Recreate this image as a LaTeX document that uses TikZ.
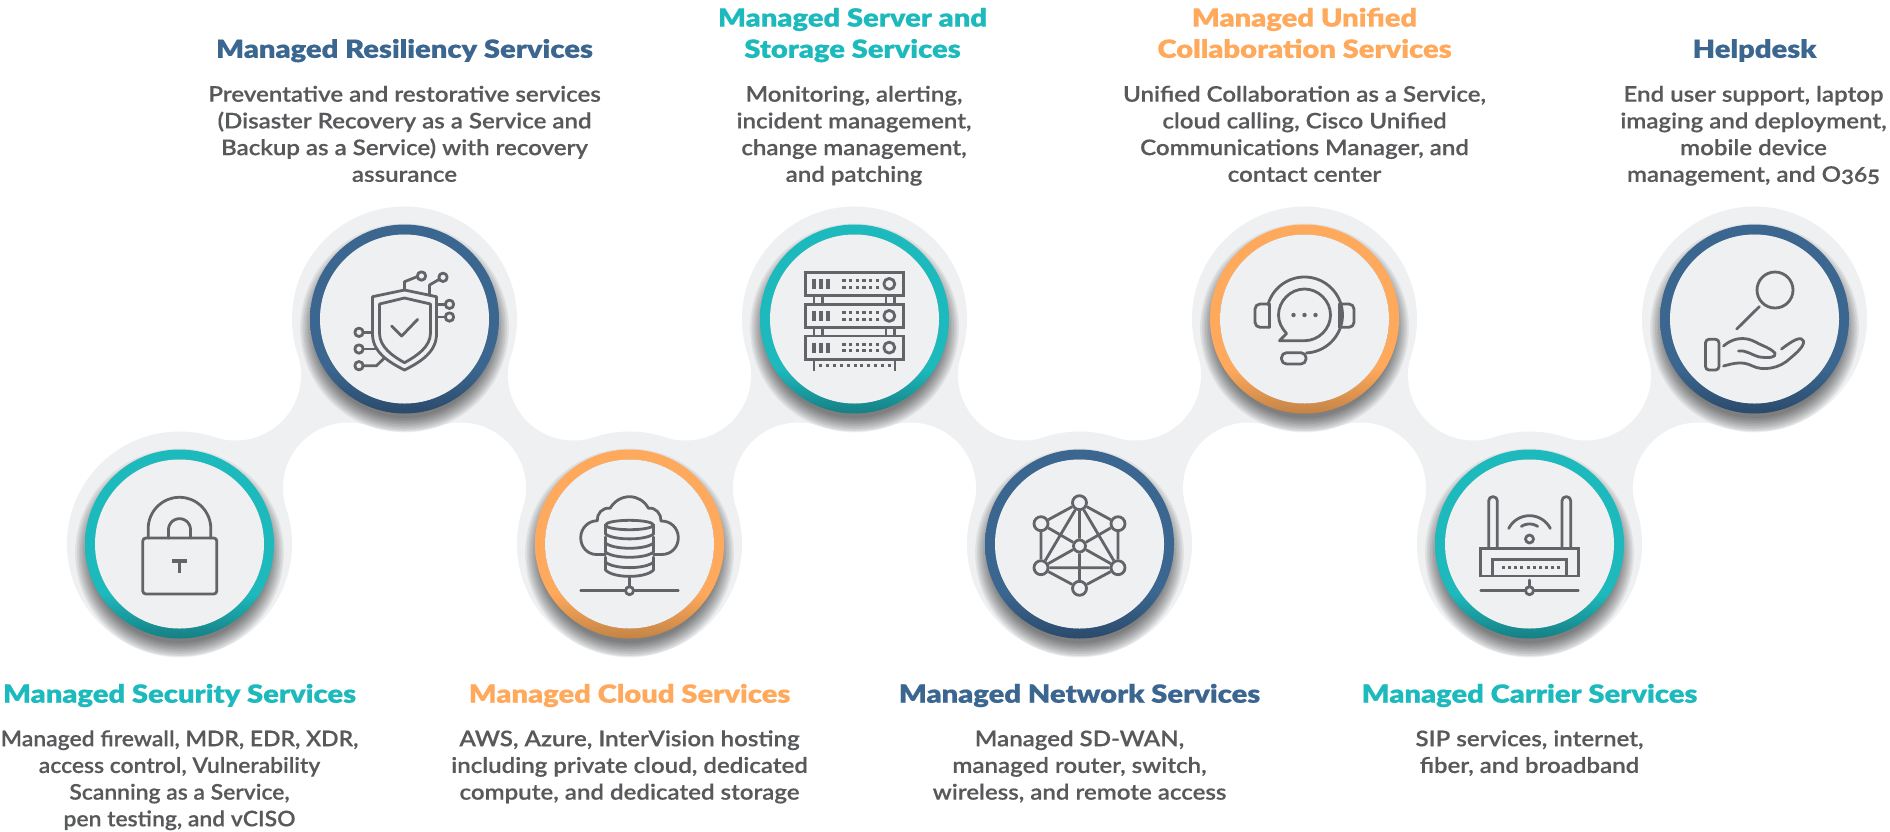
\documentclass[tikz,border=0pt]{standalone}
\usepackage{fontspec}
\setmainfont{Lato}
\newfontfamily\ttlfont[FakeStretch=1.165,FakeBold=0.5]{Lato Black}
\newfontfamily\bodyfont[FakeStretch=1.12,FakeBold=0.35,Numbers=OldStyle]{Lato Semibold}
\newfontfamily\bodyfontN[FakeStretch=1.065,FakeBold=0.35,Numbers=OldStyle]{Lato Semibold}
\definecolor{halo}{HTML}{EEF0F2}
\definecolor{icon}{HTML}{636467}
\definecolor{bodytxt}{HTML}{58595B}
\definecolor{teal}{HTML}{1DBABD}
\definecolor{tealD}{HTML}{167F84}
\definecolor{orng}{HTML}{FFA95C}
\definecolor{orngD}{HTML}{C48445}
\definecolor{blu}{HTML}{3B668F}
\definecolor{bluD}{HTML}{2B4A6B}
\pgfdeclareverticalshading{ringteal}{100bp}{color(0bp)=(tealD); color(25bp)=(tealD); color(37bp)=(teal); color(100bp)=(teal)}
\pgfdeclareverticalshading{ringorng}{100bp}{color(0bp)=(orngD); color(25bp)=(orngD); color(37bp)=(orng); color(100bp)=(orng)}
\pgfdeclareverticalshading{ringblu}{100bp}{color(0bp)=(bluD); color(25bp)=(bluD); color(37bp)=(blu); color(100bp)=(blu)}
\tikzset{
  ico/.style={draw=icon,line width=2.8pt,line join=round,line cap=round},
  icf/.style={fill=icon},
  hub/.style={circle,draw=icon,line width=2.8pt,inner sep=0pt,minimum size=14pt},
  ttl/.style={font=\ttlfont\fontsize{25}{31.2}\selectfont,align=center,inner sep=0pt,anchor=north},
  bdy/.style={font=\bodyfont\fontsize{21.5}{26.7}\selectfont,text=bodytxt,align=center,inner sep=0pt,anchor=north},
  bdyn/.style={bdy,font=\bodyfontN\fontsize{21.5}{26.7}\selectfont}
}
\newcommand\ts{\rule{0pt}{22pt}}
\newcommand\bs{\rule{0pt}{20pt}}
\newcommand\station[3]{%
  \begin{scope}[shift={(#1,#2)}]
    \foreach \i in {0,...,9}{\fill[black,opacity=.06] (0,9) circle[radius={90pt+\i*1.6pt}];}
    \shade[shading=#3,even odd rule] (0,0) circle[radius=94.5pt] circle[radius=84.5pt];
    \fill[halo] (0,0) circle[radius=84.5pt];
  \end{scope}}
\begin{document}
\begin{tikzpicture}[x=1pt,y=-1pt]
\useasboundingbox (0,0) rectangle (1890,831);
\fill[white] (0,0) rectangle (1890,831);
% ribbon
\foreach \a in {179.5,629.5,1079.5,1529.5}{
  \pgfmathsetmacro\ux{\a+225}
  \pgfmathsetmacro\mx{\a+112.5}
  \pgfmathsetmacro\fa{\mx+56.6}
  \pgfmathsetmacro\fb{\mx-56.6}
  \fill[halo] (\a,544) -- (\fa,488.1) -- (\ux,319) -- (\fb,374.9) -- cycle;
  \fill[white] (\fa,488.1) circle[radius=65.6pt] (\fb,374.9) circle[radius=65.6pt];
}
\foreach \a in {629.5,1079.5,1529.5}{
  \pgfmathsetmacro\ux{\a-225}
  \pgfmathsetmacro\mx{\a-112.5}
  \pgfmathsetmacro\fa{\mx-56.6}
  \pgfmathsetmacro\fb{\mx+56.6}
  \fill[halo] (\a,544) -- (\fa,488.1) -- (\ux,319) -- (\fb,374.9) -- cycle;
  \fill[white] (\fa,488.1) circle[radius=65.6pt] (\fb,374.9) circle[radius=65.6pt];
}
\foreach \a in {179.5,629.5,1079.5,1529.5}{\fill[halo] (\a,544) circle[radius=112.5pt];}
\foreach \a in {404.5,854.5,1304.5,1754.5}{\fill[halo] (\a,319) circle[radius=112.5pt];}
% discs
\station{179.5}{544}{ringteal}
\station{404.5}{319}{ringblu}
\station{629.5}{544}{ringorng}
\station{854.5}{319}{ringteal}
\station{1079.5}{544}{ringblu}
\station{1304.5}{319}{ringorng}
\station{1529.5}{544}{ringteal}
\station{1754.5}{319}{ringblu}
% lock
\begin{scope}[shift={(179.5,544)}]
  \draw[ico,rounded corners=3pt] (-36.7,-6) rectangle (37.3,50);
  \draw[ico] (-31.3,-6) -- (-31.3,-15.4) plot[domain=180:360,samples=40] ({31.3*cos(\x)},{-15.4+31.3*sin(\x)}) -- (31.3,-6);
  \draw[ico] (-11,-6) -- (-11,-14.3) plot[domain=180:360,samples=30] ({11*cos(\x)},{-14.3+11*sin(\x)}) -- (11,-6);
  \draw[ico,line cap=butt,line width=3.4pt] (-7.3,17) -- (7.3,17) (0,17) -- (0,28.7);
\end{scope}
% shield
\begin{scope}[shift={(404.5,319)}]
  \draw[ico] (0,-29) -- (-32,-22.3) -- (-32,15) .. controls (-32,33) and (-16,43) .. (0,51) .. controls (16,43) and (32,33) .. (32,15) -- (32,-22.3) -- cycle;
  \draw[ico] (0,-21) -- (-25,-15) -- (-25,14) .. controls (-25,28) and (-12,37) .. (0,43.7) .. controls (12,37) and (26,28) .. (26,14) -- (26,-15) -- cycle;
  \draw[ico] (-12.8,7) -- (-2.8,17) -- (13.2,0.3);
  \draw[ico] (0,-29) -- (0,-37.3) -- (12.5,-42.3);
  \draw[ico] (25,-24) -- (25,-34) -- (34.8,-39.7);
  \draw[ico] (32,-14.7) -- (41,-14.7) (32,-2) -- (41,-2);
  \draw[ico] (-41.5,13.3) -- (-32,13.3) (-41.5,30) -- (-27,30);
  \draw[ico] (-41.5,46.7) -- (-28,46.7) -- (-20.5,39.3);
  \draw[ico] (17,-43) circle[radius=4.2pt] (38.5,-41.7) circle[radius=4.2pt] (45,-14.7) circle[radius=4.2pt] (45,-2) circle[radius=4.2pt]
    (-45.5,13.3) circle[radius=4.2pt] (-45.5,30) circle[radius=4.2pt] (-45.5,46.7) circle[radius=4.2pt];
\end{scope}
% cloud
\begin{scope}[shift={(629.5,544)}]
  \draw[ico] (-24,10.5) -- (-32.8,10.5) .. controls (-42,10.5) and (-48.8,3) .. (-48.8,-6.3) .. controls (-48.8,-16) and (-41,-23.3) .. (-32.2,-23.3)
    .. controls (-33,-30) and (-27,-37) .. (-19.5,-35.7) .. controls (-15,-43) and (-8,-47.3) .. (0,-47.3) .. controls (8,-47.3) and (15,-43) .. (19,-35.7)
    .. controls (26,-37) and (32,-30) .. (31.5,-23) .. controls (41,-23.3) and (48.8,-16) .. (48.8,-6.3) .. controls (48.8,3) and (42,10.5) .. (32.2,10.5) -- (24,10.5);
  \draw[ico] (0,-19) ellipse[x radius=24pt,y radius=4.7pt];
  \draw[ico] (-24,-19) -- (-24,-10) .. controls (-16,-3.5) and (16,-3.5) .. (24,-10) -- (24,-19);
  \draw[ico] (-24,-7) -- (-24,8) .. controls (-16,15) and (16,15) .. (24,8) -- (24,-7);
  \draw[ico] (-24,-1) .. controls (-16,6) and (16,6) .. (24,-1);
  \draw[ico] (-24,13) -- (-24,26) .. controls (-16,34.5) and (16,34.5) .. (24,26) -- (24,13);
  \draw[ico] (-24,18) .. controls (-16,25.5) and (16,25.5) .. (24,18);
  \draw[ico] (0,32.5) -- (0,42.5);
  \draw[ico] (0,46.7) circle[radius=4pt];
  \draw[ico] (-48.8,46.7) -- (-4,46.7) (4,46.7) -- (48.8,46.7);
\end{scope}
% server
\begin{scope}[shift={(854.5,319)}]
  \foreach \t in {-46.7,-14.7,17}{
    \draw[ico,line cap=butt,line join=miter] (-49,\t) rectangle (49,\t+23.3);
    \foreach \bx in {-40.5,-34,-27}{\fill[icon] (\bx-2,\t+6.5) rectangle (\bx+2,\t+16.8);}
    \foreach \dx in {-10.5,-3.8,2.8,9.5,16.2,22.8}{
      \fill[icon] (\dx-1.6,\t+6.8) rectangle (\dx+1.6,\t+9.6);
      \fill[icon] (\dx-1.6,\t+13.4) rectangle (\dx+1.6,\t+16.2);
    }
    \draw[ico] (34.8,\t+11.6) circle[radius=5.5pt];
  }
  \foreach \t in {-23.4,8.6}{
    \draw[ico,line cap=butt] (-40.5,\t) -- (-40.5,\t+8.7) (-32,\t) -- (-32,\t+8.7) (31.5,\t) -- (31.5,\t+8.7) (40,\t) -- (40,\t+8.7);
  }
  \draw[ico,line cap=butt] (-40.5,40.3) -- (-40.5,51.7) (40.5,40.3) -- (40.5,51.7);
  \foreach \n in {0,...,10}{\fill[icon] ({-33.8+\n*6.86-1.5},44.8) rectangle ({-33.8+\n*6.86+1.5},47.8);}
\end{scope}
% network
\begin{scope}[shift={(1079.5,544)}]
  \node[hub] (n1) at (0,-41.3) {};
  \node[hub] (n2) at (-38.5,-20.3) {};
  \node[hub] (n3) at (38.5,-20.3) {};
  \node[hub,minimum size=12pt] (n4) at (0,2) {};
  \node[hub] (n5) at (-38.5,23.7) {};
  \node[hub] (n6) at (38.5,23.7) {};
  \node[hub] (n7) at (0,44.3) {};
  \draw[ico,line cap=butt] (n1) -- (n2) (n1) -- (n3) (n2) -- (n5) (n3) -- (n6) (n5) -- (n7) (n6) -- (n7)
    (n1) -- (n5) (n1) -- (n6) (n1) -- (n4) (n4) -- (n7) (n2) -- (n4) (n3) -- (n4) (n5) -- (n4) (n6) -- (n4) (n5) -- (n6);
\end{scope}
% collaboration
\begin{scope}[shift={(1304.5,319)}]
  \draw[ico] (-18,14.5) .. controls (-23,9) and (-26,3) .. (-26,-4) .. controls (-26,-18) and (-14,-30) .. (0,-30) .. controls (14,-30) and (26,-18) .. (26,-4) .. controls (26,10) and (14,21.7) .. (0,21.7) -- (-25,21.7) -- cycle;
  \fill[icon] (-11,-4) circle[radius=2.2pt] (0,-4) circle[radius=2.2pt] (11,-4) circle[radius=2.2pt];
  \draw[ico] plot[domain=196:447,samples=70] ({38*cos(\x)},{-4+38*sin(\x)});
  \draw[ico,rounded corners=5pt] (1.5,33.7) -- (-23,33.7) -- (-23,45) -- (1.5,45) -- cycle;
  \draw[ico,rounded corners=5pt] (-35,-15) -- (-49.5,-15) -- (-49.5,8.3) -- (-35,8.3);
  \draw[ico] (-35,-15) -- (-35,8.3);
  \draw[ico,rounded corners=5pt] (35,-15) -- (49.5,-15) -- (49.5,8.3) -- (35,8.3);
  \draw[ico] (35,-15) -- (35,8.3);
\end{scope}
% router
\begin{scope}[shift={(1529.5,544)}]
  \draw[ico,rounded corners=4pt] (-40.8,4.3) -- (-40.8,-47.3) -- (-32.2,-47.3) -- (-32.2,4.3);
  \draw[ico,rounded corners=4pt] (32.5,4.3) -- (32.5,-47.3) -- (41.2,-47.3) -- (41.2,4.3);
  \draw[ico,line join=miter,line cap=butt] (-48.8,4.3) rectangle (48.8,32);
  \draw[ico,line join=miter,line cap=butt] (-37,32) -- (-37,15.3) -- (37.2,15.3) -- (37.2,32);
  \foreach \n in {0,...,9}{\fill[icon] ({-26+\n*6.15-1.5},22.2) rectangle ({-26+\n*6.15+1.5},25.2);}
  \draw[ico] (0,-5) circle[radius=4pt];
  \draw[ico] plot[domain=237:303,samples=20] ({15*cos(\x)},{-5+15*sin(\x)});
  \draw[ico] plot[domain=207:333,samples=30] ({23.3*cos(\x)},{-5+23.3*sin(\x)});
  \draw[ico] (0,36) -- (0,42.7);
  \draw[ico] (0,46.7) circle[radius=4pt];
  \draw[ico] (-48.8,46.7) -- (-4,46.7) (4,46.7) -- (48.8,46.7);
\end{scope}
% helpdesk
\begin{scope}[shift={(1754.5,319)}]
  \draw[ico] (20.5,-29) circle[radius=18pt];
  \draw[ico] (4.8,-12.3) -- (-17.8,10);
  \draw[ico,rounded corners=3.5pt] (-49,20.3) rectangle (-35.5,51);
  \draw[ico] (-31,27) .. controls (-22,19) and (-10,17) .. (1,23) .. controls (8,27) and (16,29) .. (20.5,34) .. controls (22,39) and (14,39) .. (5,38) .. controls (-3,36) and (-8,31) .. (-16,32);
  \draw[ico] (-31,47) .. controls (-20,44) and (-12,42) .. (-2,47) .. controls (8,52) and (25,50) .. (36,39) .. controls (42,34) and (50,27) .. (49,22) .. controls (47,17) and (40,20) .. (27,30);
\end{scope}
% texts
\node[ttl,text=teal] (t1) at (179.5,680.5) {\ts Managed Security Services};
\node[bdyn] (b1) at (179.5,726) {\bs Managed firewall, MDR, EDR, XDR,\\access control, Vulnerability\\Scanning as a Service,\\pen testing, and vCISO};
\node[ttl,text=blu] (t2) at (404.5,35.6) {\ts Managed Resiliency Services};
\node[bdy] (b2) at (404.5,81.5) {\bs Preventative and restorative services\\(Disaster Recovery as a Service and\\Backup as a Service) with recovery\\assurance};
\node[ttl,text=orng] (t3) at (629.5,680.5) {\ts Managed Cloud Services};
\node[bdy] (b3) at (629.5,726) {\bs AWS, Azure, InterVision hosting\\including private cloud, dedicated\\compute, and dedicated storage};
\node[ttl,text=teal] (t4) at (852.5,4.4) {\ts Managed Server and\\Storage Services};
\node[bdy] (b4) at (854,81.5) {\bs Monitoring, alerting,\\incident management,\\change management,\\and patching};
\node[ttl,text=blu] (t5) at (1079.5,680.5) {\ts Managed Network Services};
\node[bdy] (b5) at (1079.5,726) {\bs Managed SD-WAN,\\managed router, switch,\\wireless, and remote access};
\node[ttl,text=orng] (t6) at (1304.5,4.4) {\ts Managed Unified\\Collaboration Services};
\node[bdy] (b6) at (1304.5,81.5) {\bs Unified Collaboration as a Service,\\cloud calling, Cisco Unified\\Communications Manager, and\\contact center};
\node[ttl,text=teal] (t7) at (1529.5,680.5) {\ts Managed Carrier Services};
\node[bdy] (b7) at (1529.5,726) {\bs SIP services, internet,\\fiber, and broadband};
\node[ttl,text=blu] (t8) at (1754.5,35.6) {\ts Helpdesk};
\node[bdy] (b8) at (1753.5,81.5) {\bs End user support, laptop\\imaging and deployment,\\mobile device\\management, and O365};
\end{tikzpicture}
\end{document}
